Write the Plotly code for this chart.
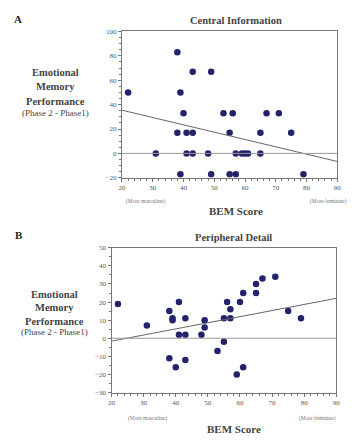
import numpy as np
import plotly.graph_objects as go

# ---- Data ----
central_bem = [22, 31, 38, 39, 38, 39, 40, 41, 41, 43, 43, 43, 48, 49, 49, 53, 55, 55,
               56, 57, 57, 59, 60, 61, 65, 65, 67, 71, 75, 79]
central_emp = [50, 0, 83, 50, 17, -17, 33, 17, 0, 67, 17, 0, 0, 67, -17, 33, 17, -17,
               33, -17, 0, 0, 0, 0, 17, 0, 33, 33, 17, -17]

peripheral_bem = [22, 31, 38, 39, 39, 41, 41, 38, 40, 43, 43, 43, 48, 49, 49, 53, 55, 55,
                  56, 57, 57, 59, 60, 61, 61, 65, 65, 67, 71, 75, 79]
peripheral_emp = [19, 7, 15, 11, 10, 20, 2, -11, -16, 11, 2, -12, 2, 10, 6, -7, -2, 11,
                  20, 16, 11, -20, 20, 25, -16, 25, 30, 33, 34, 15, 11]

x_ticks = [20, 30, 40, 50, 60, 70, 80, 90]
a_y_ticks = [-20, 0, 20, 40, 60, 80, 100]
b_y_ticks = [-30, -20, -10, 0, 10, 20, 30, 40, 50]

titles = ["Central Information", "Peripheral Detail"]
panel_letters = ["A", "B"]
ytitle_lines = ["Emotional", "Memory", "Performance", "(Phase 2 - Phase1)"]

W, H = 354, 441
FONT = "Liberation Serif"
DOT = "#23236b"

def px(x):
    return x / W

def py(y):
    return 1 - y / H

fig = go.Figure()

def add_panel(bx, ey, xa, ya):
    fig.add_trace(go.Scatter(x=bx, y=ey, mode="markers", xaxis=xa, yaxis=ya,
                             marker=dict(size=6.5, color=DOT), showlegend=False))
    slope, inter = np.polyfit(bx, ey, 1)
    lx = np.array([20, 90])
    fig.add_trace(go.Scatter(x=lx, y=slope * lx + inter, mode="lines", xaxis=xa, yaxis=ya,
                             line=dict(color="#666666", width=1), showlegend=False))
    fig.add_trace(go.Scatter(x=[20, 90], y=[0, 0], mode="lines", xaxis=xa, yaxis=ya,
                             line=dict(color="#999999", width=1), showlegend=False))

add_panel(central_bem, central_emp, "x", "y")
add_panel(peripheral_bem, peripheral_emp, "x2", "y2")

axis_common = dict(showgrid=False, zeroline=False, showline=True, linecolor="#777777",
                   linewidth=1, mirror=True, ticks="outside", ticklen=3, tickcolor="#777777",
                   tickfont=dict(family=FONT, size=7, color="#555555"))

fig.update_layout(
    width=W, height=H, margin=dict(l=0, r=0, t=0, b=0),
    paper_bgcolor="white", plot_bgcolor="white",
    xaxis=dict(domain=[px(120.7), px(341)], range=[20, 90], tickvals=x_ticks,
               anchor="y", minor=dict(dtick=2, ticks="outside", ticklen=2, tickcolor="#777777"),
               **axis_common),
    yaxis=dict(domain=[py(177), py(28)], range=[-20, 100], tickvals=a_y_ticks,
               anchor="x", minor=dict(dtick=5, ticks="outside", ticklen=2, tickcolor="#777777"),
               **axis_common),
    xaxis2=dict(domain=[px(110), px(340)], range=[20, 90], tickvals=x_ticks,
                anchor="y2", minor=dict(dtick=2, ticks="outside", ticklen=2, tickcolor="#777777"),
                **axis_common),
    yaxis2=dict(domain=[py(395.7), py(248.3)], range=[-30, 50], tickvals=b_y_ticks,
                anchor="x2", minor=dict(dtick=5, ticks="outside", ticklen=2, tickcolor="#777777"),
                **axis_common),
)

ann = []
def text(x, y, s, size, bold=False, color="#333333", xanchor="center"):
    ann.append(dict(x=px(x), y=py(y), xref="paper", yref="paper", text=(f"<b>{s}</b>" if bold else s),
                    showarrow=False, xanchor=xanchor, yanchor="middle",
                    font=dict(family=FONT, size=size, color=color)))

# Panel A
text(14, 15, panel_letters[0], 11, True, "#222222")
text(237, 17, titles[0], 10.5, True, "#444444")
for i, (yy, s) in enumerate(zip([70, 84, 99, 111], ytitle_lines)):
    text(53, yy, s, 10.5 if i < 3 else 9, i < 3, "#444444")
text(123, 201, "(More masculine)", 5.5, False, "#777777", "left")
text(353, 201, "(More feminine)", 5.5, False, "#777777", "right")
text(237, 211, "BEM Score", 11, True, "#444444")

# Panel B
text(15, 235, panel_letters[1], 11, True, "#222222")
text(235, 238, titles[1], 10.5, True, "#444444")
for i, (yy, s) in enumerate(zip([296, 309, 323, 334], ytitle_lines)):
    text(52, yy, s, 10.5 if i < 3 else 9, i < 3, "#444444")
text(125, 422, "(More masculine)", 5.5, False, "#777777", "left")
text(342, 422, "(More feminine)", 5.5, False, "#777777", "right")
text(235, 433, "BEM Score", 11, True, "#444444")

fig.update_layout(annotations=ann)
fig.write_html("out.html")
